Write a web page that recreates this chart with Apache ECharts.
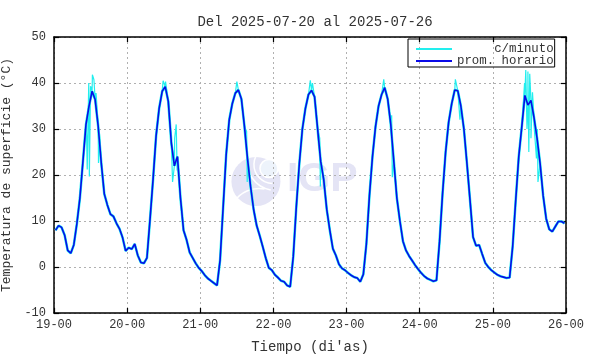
<!DOCTYPE html>
<html>
<head>
<meta charset="utf-8">
<script src="https://cdn.jsdelivr.net/npm/echarts@6/dist/echarts.min.js"></script>
<style>
  html, body { margin: 0; padding: 0; background: #fff; }
  #chart { width: 590px; height: 354px; }
</style>
</head>
<body>
<div id="chart"></div>
<script>
// etiquetas del eje x (cada 24 h)
const xTickLabels = ['19-00', '20-00', '21-00', '22-00', '23-00', '24-00', '25-00', '26-00']

// promedio horario, un valor por hora (se dibuja a la media hora)
const promDia1 = [8.0, 9.0, 8.6, 6.9, 3.6, 3.0, 4.8, 9.4, 15.0, 23.0, 31.0, 35.0, 38.2, 36.4, 30.6, 22.7, 15.9, 13.5, 11.5, 11.0, 9.5, 8.3, 6.4, 3.5]
const promDia2 = [4.2, 3.9, 5.0, 2.5, 1.0, 0.8, 2.0, 10.3, 19.0, 28.5, 34.5, 38.2, 39.2, 36.0, 27.0, 22.0, 24.0, 15.0, 8.0, 5.9, 3.2, 2.0, 0.8, -0.2]
const promDia3 = [-0.9, -1.8, -2.5, -3.0, -3.5, -4.0, 1.5, 13.0, 24.5, 32.0, 35.5, 37.8, 38.5, 36.5, 30.5, 23.5, 17.5, 12.5, 9.0, 6.8, 4.4, 1.9, -0.2, -0.7]
const promDia4 = [-1.7, -2.3, -3.0, -3.2, -4.0, -4.3, 2.2, 13.0, 22.5, 30.0, 34.5, 37.5, 38.4, 37.0, 30.0, 23.0, 19.0, 12.5, 8.0, 4.0, 2.5, 0.6, -0.3, -0.7]
const promDia5 = [-1.3, -1.8, -2.2, -2.4, -3.2, -1.6, 5.0, 15.5, 24.0, 30.5, 35.0, 37.5, 39.0, 36.5, 31.0, 23.0, 15.0, 10.0, 5.6, 3.6, 2.4, 1.4, 0.4, -0.5]
const promDia6 = [-1.3, -2.0, -2.5, -2.8, -3.1, -2.9, 5.5, 16.0, 25.0, 31.5, 35.5, 38.5, 38.3, 35.0, 30.0, 22.5, 14.6, 6.5, 4.6, 4.8, 2.8, 0.9, 0.0, -0.7]
const promDia7 = [-1.2, -1.7, -2.0, -2.2, -2.4, -2.3, 4.5, 14.5, 24.0, 30.5, 37.3, 35.2, 36.2, 32.5, 28.0, 22.5, 15.5, 10.5, 8.2, 7.7, 8.8, 9.9, 9.9, 9.5]

// picos de los datos por minuto: [hora, valor]
const picosMinuto = [
  [10.7, 28.4], [10.9, 21.2], [11.4, 40.0], [11.6, 19.7], [12.0, 39.3], [12.6, 41.8], [13.1, 40.7], [13.8, 37.8], [14.6, 22.6], [14.9, 29.1],
  [35.8, 40.5], [36.6, 40.3], [38.9, 18.5], [39.6, 28.0], [40.1, 31.0], [40.4, 21.0],
  [60.0, 40.3], [63.2, 29.5], [63.4, 18.5],
  [84.1, 40.6], [84.8, 40.0], [87.2, 28.0], [87.4, 17.5],
  [108.2, 40.8], [110.8, 33.0], [111.0, 19.5],
  [131.7, 40.8], [133.2, 32.0],
  [154.4, 40.0], [154.8, 42.8], [155.2, 30.0], [155.5, 42.5], [155.8, 25.0], [156.1, 42.0], [156.5, 28.0], [157.0, 38.0], [157.5, 31.0], [158.3, 23.6], [158.6, 30.0], [158.8, 18.5]
]

const promHorario = [].concat(promDia1, promDia2, promDia3, promDia4, promDia5, promDia6, promDia7)
const serieHoraria = promHorario.map((v, i) => [i + 0.5, v])
const serieMinuto = serieHoraria.concat(picosMinuto).sort((a, b) => a[0] - b[0])

const mono = '"Liberation Mono", "DejaVu Sans Mono", monospace'
const txt = '#333'
const cian = '#22eeee'
const azul = '#0a0ae8'

let chart = echarts.init(document.getElementById('chart'))

let option = {
  backgroundColor: '#fff',
  animation: false,
  title: {
    text: 'Del 2025-07-20 al 2025-07-26',
    left: 310,
    textAlign: 'center',
    top: 10,
    textStyle: { fontFamily: mono, fontSize: 14, fontWeight: 'normal', color: txt },
  },
  grid: { left: 54, right: 24, top: 37, bottom: 41, outerBoundsMode: 'none', containLabel: false },
  legend: {
    left: 408,
    top: 39,
    orient: 'vertical',
    itemWidth: 36,
    itemHeight: 2,
    itemGap: 0,
    padding: [4, 1, 0, 8],
    borderColor: '#000',
    borderWidth: 1,
    borderRadius: 0,
    icon: 'rect',
    data: ['c/minuto', 'prom. horario'],
    formatter: (name) => name.padStart(13, '\u00a0'),
    textStyle: { fontFamily: mono, fontSize: 12.4, color: txt, lineHeight: 10, height: 10 },
  },
  graphic: [
    {
      type: 'group',
      left: 231,
      top: 153,
      z: -10,
      silent: true,
      children: [
        { type: 'circle', shape: { cx: 25, cy: 25, r: 24.5 }, style: { fill: '#e4e4f5' } },
        { type: 'circle', shape: { cx: 38, cy: 12, r: 9 }, style: { stroke: '#fff', fill: '#edf3fb', lineWidth: 1.5 } },
        { type: 'arc', shape: { cx: 42, cy: 8, r: 19, startAngle: 1.6, endAngle: 3.6 }, style: { stroke: '#fff', fill: null, lineWidth: 1.5 } },
        { type: 'arc', shape: { cx: 45, cy: 5, r: 29, startAngle: 1.75, endAngle: 3.35 }, style: { stroke: '#fff', fill: null, lineWidth: 1.5 } },
        { type: 'arc', shape: { cx: 28, cy: 62, r: 30, startAngle: 3.7, endAngle: 4.9 }, style: { stroke: '#fff', fill: null, lineWidth: 1.5 } },
        {
          type: 'text',
          x: 56,
          y: 3,
          style: { text: 'IGP', font: 'bold 41px "Liberation Sans", Arial, sans-serif', fill: '#e4e4f5' },
        },
      ],
    },
  ],
  xAxis: [
    {
      type: 'value',
      min: 0,
      max: 168,
      interval: 24,
      name: "Tiempo (di'as)",
      nameLocation: 'middle',
      nameGap: 27,
      nameTextStyle: { fontFamily: mono, fontSize: 14, color: txt },
      axisLine: { onZero: false, lineStyle: { color: '#000', width: 1.5 } },
      axisTick: { inside: true, length: 5, lineStyle: { color: '#000', width: 1.2 } },
      axisLabel: {
        fontFamily: mono, fontSize: 12, color: txt, margin: 6,
        formatter: (v) => xTickLabels[Math.round(v / 24)],
      },
      splitLine: { show: true, lineStyle: { color: '#b0b0b0', type: [2, 3], width: 1 } },
    },
    {
      type: 'value',
      position: 'top',
      min: 0,
      max: 168,
      interval: 24,
      axisLine: { onZero: false, lineStyle: { color: '#000', width: 1.5 } },
      axisTick: { inside: true, length: 5, lineStyle: { color: '#000', width: 1.2 } },
      axisLabel: { show: false },
      splitLine: { show: false },
    },
  ],
  yAxis: [
    {
      type: 'value',
      min: -10,
      max: 50,
      interval: 10,
      name: 'Temperatura de superficie (°C)',
      nameLocation: 'middle',
      nameGap: 30,
      nameTextStyle: { fontFamily: mono, fontSize: 13, color: txt },
      axisLine: { show: true, onZero: false, lineStyle: { color: '#000', width: 1.5 } },
      axisTick: { show: true, inside: true, length: 5, lineStyle: { color: '#000', width: 1.2 } },
      axisLabel: { fontFamily: mono, fontSize: 12, color: txt, margin: 8 },
      splitLine: { show: true, lineStyle: { color: '#b0b0b0', type: [2, 3], width: 1 } },
    },
    {
      type: 'value',
      position: 'right',
      min: -10,
      max: 50,
      interval: 10,
      axisLine: { show: true, onZero: false, lineStyle: { color: '#000', width: 1.5 } },
      axisTick: { show: true, inside: true, length: 5, lineStyle: { color: '#000', width: 1.2 } },
      axisLabel: { show: false },
      splitLine: { show: false },
    },
  ],
  series: [
    {
      name: 'c/minuto',
      type: 'line',
      showSymbol: false,
      color: cian,
      lineStyle: { color: cian, width: 2.6 },
      data: serieHoraria,
      z: 2,
    },
    {
      name: 'c/minuto',
      type: 'line',
      showSymbol: false,
      color: cian,
      lineStyle: { color: cian, width: 1.2 },
      data: serieMinuto,
      z: 2,
    },
    {
      name: 'prom. horario',
      type: 'line',
      showSymbol: false,
      color: azul,
      lineStyle: { color: azul, width: 1.6 },
      data: serieHoraria,
      z: 3,
    },
  ],
}

chart.setOption(option)
</script>
</body>
</html>
